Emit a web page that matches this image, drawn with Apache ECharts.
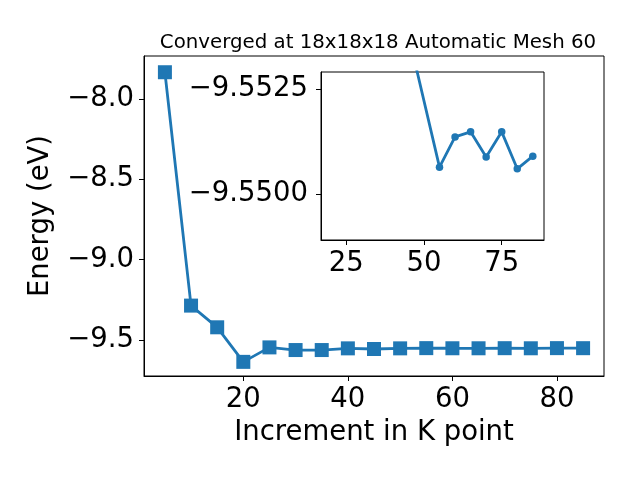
<!DOCTYPE html>
<html>
<head>
<meta charset="utf-8">
<script src="https://cdn.jsdelivr.net/npm/echarts@6/dist/echarts.min.js"></script>
<style>html,body{margin:0;padding:0;background:#fff}#c{width:640px;height:480px}</style>
</head>
<body>
<div id="c"></div>
<script>
// ---- data ----
const kPoints = [5, 10, 15, 20, 25, 30, 35, 40, 45, 50, 55, 60, 65, 70, 75, 80, 85];
const energy = [-7.834, -9.286, -9.421, -9.636, -9.546, -9.5625, -9.5625, -9.552, -9.556, -9.552,
                -9.5506, -9.5514, -9.5515, -9.5509, -9.5515, -9.5506, -9.5509];
const insetK = [45, 55, 60, 65, 70, 75, 80, 85];
const insetEnergy = [-9.5538, -9.55064, -9.55136, -9.55148, -9.55088, -9.55148, -9.5506, -9.5509];
const mainXTicks = [20, 40, 60, 80];
const mainYTicks = [-9.5, -9.0, -8.5, -8.0];
const insetXTicks = [25, 50, 75];
const insetYTicks = [-9.5525, -9.5500];
const titleText = 'Converged at 18x18x18 Automatic Mesh 60';
const xName = 'Increment in K point';
const yName = 'Energy (eV)';

const FONT = 'DejaVu Sans';
const BLUE = '#1f77b4';
const FS = 27.5;
const fmt = d => v => (v < 0 ? '\u2212' : '') + Math.abs(v).toFixed(d);

const chart = echarts.init(document.getElementById('c'), null, {renderer: 'canvas'});
const axisCommon = {
  axisLine: {show: true, onZero: false, lineStyle: {color: '#000', width: 1}},
  axisTick: {show: true, inside: false, length: 5, lineStyle: {color: '#000', width: 1}},
  splitLine: {show: false}
};
chart.setOption({
  animation: false,
  backgroundColor: '#fff',
  title: {
    text: titleText, left: 373, top: 28, textAlign: 'center',
    textStyle: {fontFamily: FONT, fontSize: 19.8, fontWeight: 'normal', color: '#000'}
  },
  grid: [
    {left: 144, top: 56, width: 460, height: 320, show: true, borderColor: '#000', borderWidth: 1, backgroundColor: 'transparent'},
    {left: 321, top: 72, width: 223, height: 168, show: true, borderColor: '#000', borderWidth: 1, backgroundColor: '#fff'}
  ],
  xAxis: [
    Object.assign({}, axisCommon, {
      type: 'value', gridIndex: 0, min: 1, max: 89,
      name: xName, nameLocation: 'middle', nameGap: 41,
      nameTextStyle: {fontFamily: FONT, fontSize: FS, color: '#000'},
      axisTick: Object.assign({}, axisCommon.axisTick, {customValues: mainXTicks}),
      axisLabel: {customValues: mainXTicks, fontFamily: FONT, fontSize: FS, color: '#000', margin: 10}
    }),
    Object.assign({}, axisCommon, {
      type: 'value', gridIndex: 1, min: 16.9, max: 88.6,
      axisTick: Object.assign({}, axisCommon.axisTick, {customValues: insetXTicks}),
      axisLabel: {customValues: insetXTicks, fontFamily: FONT, fontSize: FS, color: '#000', margin: 10}
    })
  ],
  yAxis: [
    Object.assign({}, axisCommon, {
      type: 'value', gridIndex: 0, min: -9.724, max: -7.733,
      name: yName, nameLocation: 'middle', nameGap: 89, nameMoveOverlap: false,
      nameTextStyle: {fontFamily: FONT, fontSize: FS, color: '#000'},
      axisTick: Object.assign({}, axisCommon.axisTick, {customValues: mainYTicks}),
      axisLabel: {customValues: mainYTicks, fontFamily: FONT, fontSize: FS, color: '#000', margin: 10, formatter: fmt(1)}
    }),
    Object.assign({}, axisCommon, {
      type: 'value', gridIndex: 1, min: -9.552905, max: -9.548905, inverse: true,
      axisTick: Object.assign({}, axisCommon.axisTick, {customValues: insetYTicks}),
      axisLabel: {customValues: insetYTicks, fontFamily: FONT, fontSize: FS, color: '#000', margin: 13, formatter: fmt(4)}
    })
  ],
  series: [
    {
      type: 'line', xAxisIndex: 0, yAxisIndex: 0,
      data: kPoints.map((k, i) => [k, energy[i]]),
      symbol: 'rect', symbolSize: 14, showAllSymbol: true,
      lineStyle: {color: BLUE, width: 2.8}, itemStyle: {color: BLUE}
    },
    {
      type: 'line', xAxisIndex: 1, yAxisIndex: 1, clip: true,
      data: insetK.map((k, i) => [k, insetEnergy[i]]),
      symbol: 'circle', symbolSize: 7.5, showAllSymbol: true,
      lineStyle: {color: BLUE, width: 2.8}, itemStyle: {color: BLUE}
    }
  ]
});
</script>
</body>
</html>
